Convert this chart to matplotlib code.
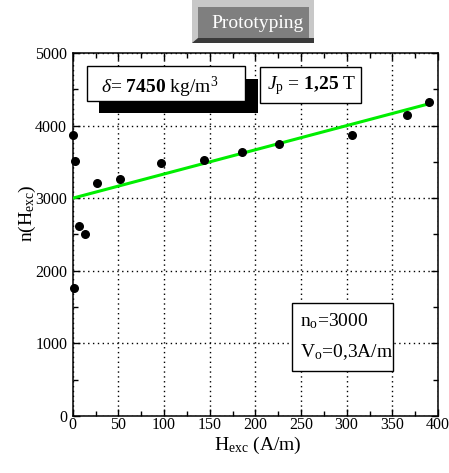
import numpy as np
import matplotlib.pyplot as plt
from matplotlib.patches import Rectangle, Polygon
from matplotlib.ticker import MultipleLocator

# Datos medidos
H_exc = [0.7, 1.4, 2.6, 6.9, 13.5, 26.2, 51.8, 96.2, 143.5, 185.7, 225.4, 306, 366.6, 390.3]
n_H = [3865, 1757, 3507, 2618, 2500, 3209, 3264, 3490, 3530, 3635, 3745, 3865, 4140, 4323]

# Recta de ajuste
fit_H = [0, 390]
fit_n = [3000, 4300]

x_ticks = [0, 50, 100, 150, 200, 250, 300, 350, 400]
y_ticks = [0, 1000, 2000, 3000, 4000, 5000]

plt.rcParams['font.family'] = ['Liberation Serif', 'DejaVu Serif']
plt.rcParams['mathtext.fontset'] = 'custom'
plt.rcParams['mathtext.rm'] = 'Liberation Serif'
plt.rcParams['mathtext.it'] = 'Liberation Serif:italic'
plt.rcParams['mathtext.bf'] = 'Liberation Serif:bold'

W, Hp = 449, 473
fig = plt.figure(figsize=(W / 100, Hp / 100), dpi=100)
ax = fig.add_axes([72.7 / W, 1 - 416 / Hp, (438 - 72.7) / W, (416 - 53) / Hp])


def fx(x):
    return x / W


def fy(y):
    return 1 - y / Hp


def rect(x0, y0, x1, y1, **kw):
    fig.patches.append(Rectangle((fx(x0), fy(y1)), fx(x1) - fx(x0), fy(y0) - fy(y1),
                                 transform=fig.transFigure, **kw))


def poly(pts, **kw):
    fig.patches.append(Polygon([(fx(a), fy(b)) for a, b in pts], closed=True,
                               transform=fig.transFigure, **kw))


# Datos y ajuste
ax.plot(fit_H, fit_n, color='#00ee00', lw=2.2, zorder=3)
ax.scatter(H_exc, n_H, s=30, color='black', zorder=4, clip_on=False)

# Ejes
ax.set_xlim(0, 400)
ax.set_ylim(0, 5000)
ax.set_xticks(x_ticks)
ax.set_yticks(y_ticks)
ax.xaxis.set_minor_locator(MultipleLocator(25))
ax.yaxis.set_minor_locator(MultipleLocator(500))
ax.tick_params(which='both', direction='in', top=True, right=True, labelsize=11.5)
ax.tick_params(which='major', length=5, width=1)
ax.tick_params(which='minor', length=3.5, width=1)
ax.tick_params(axis='x', pad=0.5)
ax.tick_params(axis='y', pad=4)
for s in ax.spines.values():
    s.set_linewidth(1.1)
ax.grid(True, which='major', color='black', linestyle=(0, (1, 2.5)), lw=1)

fig.text(fx(258), fy(450), r'H$_{\mathrm{exc}}$ (A/m)', fontsize=14, ha='center', va='baseline')
fig.text(fx(27), fy(213), r'n(H$_{\mathrm{exc}}$)', fontsize=14, ha='center', va='center', rotation=90)

# Botón "Prototyping"
x0, y0, x1, y1 = 192, 0, 314, 43
xi0, yi0, xi1, yi1 = 198, 7, 309, 38
rect(x0, y0, x1, y1, facecolor='#c8c8c8', lw=0)
poly([(x0, y1), (xi0, yi1), (x1, yi1), (x1, y1)], facecolor='#3a3a3a', lw=0)
rect(xi0, yi0, xi1, yi1, facecolor='#7f7f7f', lw=0)
fig.text(fx(257.5), fy(28.3), 'Prototyping', color='white', fontsize=14, ha='center', va='baseline')

# Cuadro densidad con sombra
rect(99.3, 79.3, 258.3, 113.3, facecolor='black', lw=0)
rect(86.7, 66, 245, 100.7, facecolor='white', edgecolor='black', lw=1)
fig.text(fx(101), fy(93), r'$\delta$= $\mathbf{7450}$ kg/m$^{3}$', fontsize=14, ha='left', va='baseline')

# Cuadro Jp
rect(260, 66.7, 361, 102.7, facecolor='white', edgecolor='black', lw=1)
fig.text(fx(267), fy(89.5), r'$J_{\mathrm{p}}$ = $\mathbf{1{,}25}$ T', fontsize=14, ha='left', va='baseline')

# Cuadro n_o, V_o
rect(291.7, 302.7, 392.7, 371, facecolor='white', edgecolor='black', lw=1)
fig.text(fx(300), fy(326), r'n$_{\mathrm{o}}$=3000', fontsize=14, ha='left', va='baseline')
fig.text(fx(300), fy(357), r'V$_{\mathrm{o}}$=0,3A/m', fontsize=14, ha='left', va='baseline')

fig.savefig('out.png', dpi=100)
